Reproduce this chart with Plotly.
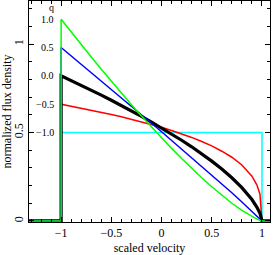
import plotly.graph_objects as go

# scaled velocity grid
velocity = [-1.0, -0.9, -0.8, -0.7, -0.6, -0.5, -0.4, -0.3, -0.2, -0.1, 0.0,
            0.1, 0.2, 0.3, 0.4, 0.5, 0.6, 0.7, 0.8, 0.9, 0.95, 0.98, 1.0]
# zero-flux stretches outside the profile
v_left = [-1.32, -1.0]
v_right = [1.0, 1.08]

q_labels = ["1.0", "0.5", "0.0", "\u22120.5", "\u22121.0"]

flux_q_m1 = [0.5] * 23
flux_q_m05 = [0.660, 0.649, 0.638, 0.627, 0.615, 0.602, 0.589, 0.575, 0.560, 0.545, 0.529,
              0.511, 0.492, 0.472, 0.449, 0.424, 0.394, 0.360, 0.316, 0.253, 0.203, 0.151, 0.0]
flux_q_0 = [0.820, 0.794, 0.767, 0.739, 0.711, 0.682, 0.653, 0.622, 0.591, 0.559, 0.526,
            0.492, 0.456, 0.419, 0.379, 0.338, 0.293, 0.244, 0.188, 0.121, 0.077, 0.043, 0.0]
flux_q_05 = [0.980, 0.933, 0.886, 0.838, 0.791, 0.744, 0.696, 0.648, 0.600, 0.552, 0.504,
             0.455, 0.407, 0.358, 0.309, 0.259, 0.209, 0.159, 0.107, 0.055, 0.028, 0.012, 0.0]
flux_q_1 = [1.140, 1.067, 0.996, 0.926, 0.857, 0.789, 0.722, 0.657, 0.593, 0.530, 0.469,
            0.410, 0.353, 0.297, 0.244, 0.193, 0.145, 0.100, 0.060, 0.025, 0.010, 0.003, 0.0]

series = [
    (flux_q_m1, "#00ffff", 1.5),
    (flux_q_m05, "#ff0000", 1.5),
    (flux_q_0, "#000000", 3.2),
    (flux_q_05, "#0000ff", 1.5),
    (flux_q_1, "#00ff00", 1.5),
]

FONT = "Liberation Serif"
fig = go.Figure()
for vals, col, w in series:
    xs = v_left + velocity + v_right
    ys = [0, 0] + vals + [0, 0]
    fig.add_trace(go.Scatter(x=xs, y=ys, mode="lines",
                             line=dict(color=col, width=w), showlegend=False,
                             hoverinfo="skip"))

starts = [flux_q_1[0], flux_q_05[0], flux_q_0[0], flux_q_m05[0], flux_q_m1[0]]
for lab, yv in zip(q_labels, starts):
    fig.add_annotation(x=-1.05, y=yv, text=lab, showarrow=False, xanchor="right",
                       yanchor="middle", font=dict(family=FONT, size=10, color="black"))
fig.add_annotation(x=-1.1, y=1.205, text="q", showarrow=False, xanchor="center",
                   yanchor="middle", font=dict(family=FONT, size=10, color="black"))

axis_common = dict(showline=True, linecolor="black", linewidth=1, mirror="allticks",
                   ticks="inside", ticklen=5, tickcolor="black", tickwidth=1,
                   showgrid=False, zeroline=False, automargin=False,
                   tickfont=dict(family=FONT, size=12, color="black"))

fig.update_xaxes(range=[-1.32, 1.08], tickvals=[-1, -0.5, 0, 0.5, 1],
                 ticktext=["\u22121", "\u22120.5", "0", "0.5", "1"],
                 minor=dict(dtick=0.1, tick0=0, ticks="inside", ticklen=3, tickcolor="black"),
                 title=dict(text="scaled velocity", font=dict(family=FONT, size=12, color="black"),
                            standoff=7),
                 **axis_common)
fig.update_yaxes(range=[-0.006, 1.243], tickvals=[0, 0.5, 1], ticktext=["0", "0.5", "1"],
                 tickangle=-90,
                 minor=dict(dtick=0.1, tick0=0, ticks="inside", ticklen=3, tickcolor="black"),
                 title=dict(text="normalized flux density",
                            font=dict(family=FONT, size=12, color="black"), standoff=1),
                 **axis_common)

fig.update_layout(width=274, height=255, margin=dict(l=29, r=4, t=1, b=33),
                  plot_bgcolor="white", paper_bgcolor="white",
                  font=dict(family=FONT, size=12, color="black"))
fig.write_html("out.html", config={"displayModeBar": False},
               post_script="document.body.style.margin='0';document.body.style.overflow='hidden';")
